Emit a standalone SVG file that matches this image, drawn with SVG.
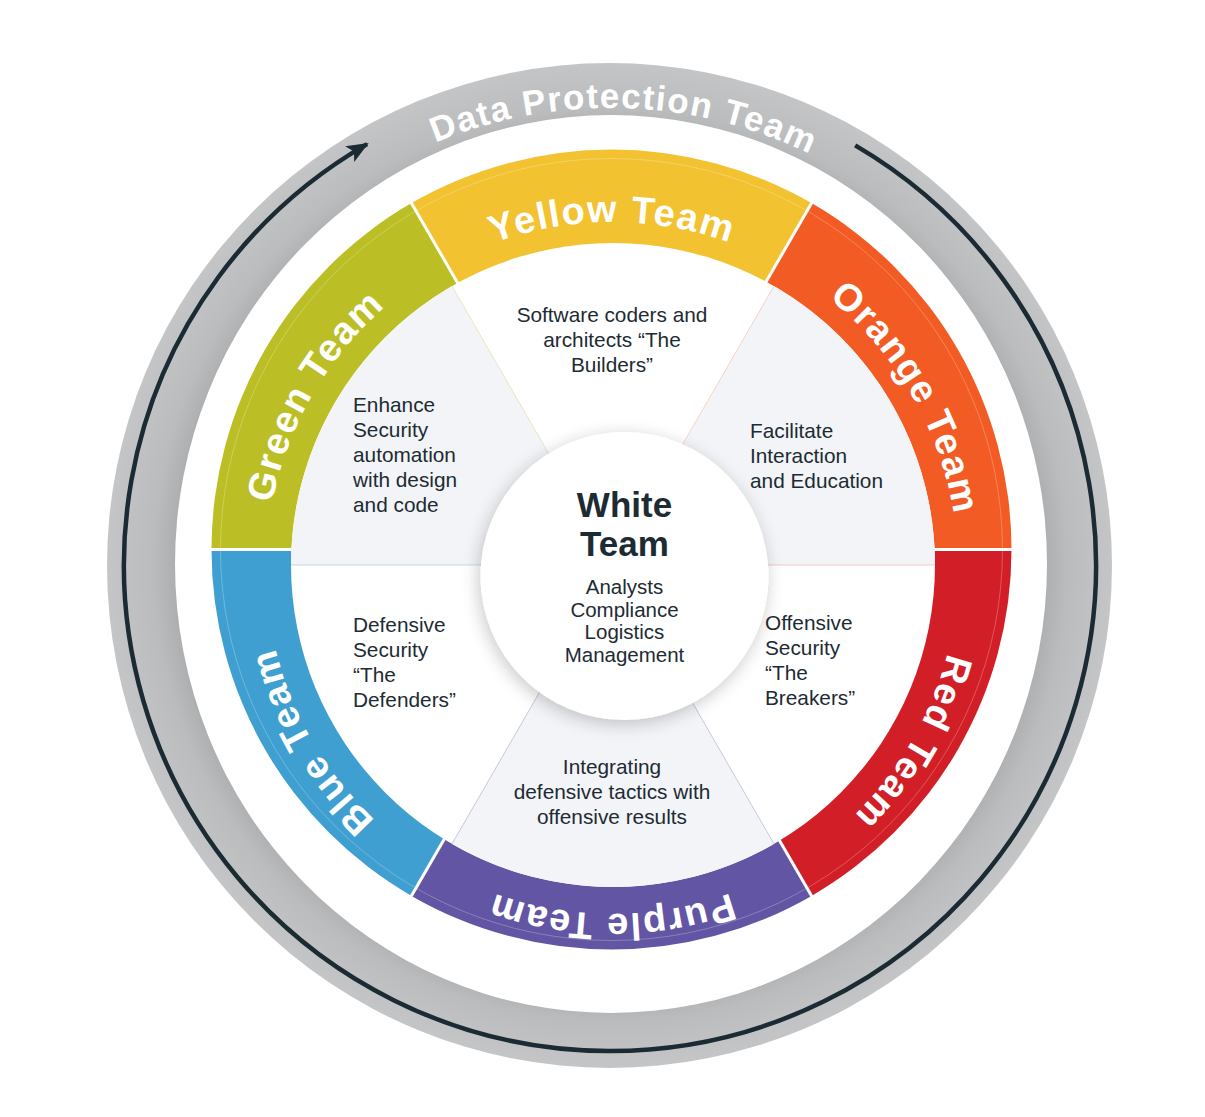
<svg xmlns="http://www.w3.org/2000/svg" width="1205" height="1117" viewBox="0 0 1205 1117">
  <defs>
    <style>
      .lbl { font-family: "Liberation Sans", Arial, sans-serif; font-weight: bold; font-size: 38px; fill: #ffffff; letter-spacing: 1.5px; }
      .dpt { font-family: "Liberation Sans", Arial, sans-serif; font-weight: bold; font-size: 35px; fill: #ffffff; letter-spacing: 1.5px; }
      .d { font-family: "Liberation Sans", Arial, sans-serif; font-size: 20.8px; fill: #1d2b33; }
      .c { text-anchor: middle; }
      .wt { font-family: "Liberation Sans", Arial, sans-serif; font-weight: bold; font-size: 35px; fill: #1d2b33; text-anchor: middle; }
      .ws { font-family: "Liberation Sans", Arial, sans-serif; font-size: 20.5px; fill: #1d2b33; text-anchor: middle; }
      .sep { stroke: #ffffff; stroke-width: 3; }
      .isep { stroke-width: 1; }
      .gray { fill: #f2f4f7; }
    </style>
    <radialGradient id="ringGrad" gradientUnits="userSpaceOnUse" cx="610" cy="565" r="503">
      <stop offset="0.85" stop-color="#a8aaac"/>
      <stop offset="0.91" stop-color="#bbbcbd"/>
      <stop offset="1" stop-color="#c4c5c6"/>
    </radialGradient>
    <filter id="shadow" x="-30%" y="-30%" width="160%" height="160%">
      <feGaussianBlur in="SourceAlpha" stdDeviation="9"/>
      <feOffset dx="-2" dy="4" result="b"/>
      <feComponentTransfer><feFuncA type="linear" slope="0.22"/></feComponentTransfer>
      <feMerge><feMergeNode/><feMergeNode in="SourceGraphic"/></feMerge>
    </filter>
    <marker id="arrow" markerUnits="userSpaceOnUse" viewBox="0 0 22 20" refX="20" refY="10" markerWidth="22" markerHeight="20" orient="auto">
      <path d="M0,1 L22,10 L0,19 L5,10 Z" fill="#1a2b33"/>
    </marker>
    <path id="pDPT" d="M214.2,336.5 A457,457 0 0 1 1005.8,336.5"/>
    <path id="pYellow" d="M312.4,395 A346,346 0 0 1 911.6,395"/>
    <path id="pOrange" d="M612,222 A346,346 0 0 1 911.6,741"/>
    <path id="pRed" d="M911.6,395 A346,346 0 0 1 612,914"/>
    <path id="pPurple" d="M911.6,741 A346,346 0 0 1 312.4,741"/>
    <path id="pBlue" d="M612,914 A346,346 0 0 1 312.4,395"/>
    <path id="pGreen" d="M312.4,741 A346,346 0 0 1 612,222"/>
  </defs>

  <rect width="1205" height="1117" fill="#ffffff"/>

  <!-- Outer Data Protection ring -->
  <g id="data-protection-team">
    <circle cx="609.5" cy="565.5" r="502.5" fill="url(#ringGrad)"/>
    <ellipse cx="611" cy="564" rx="436" ry="449" fill="#ffffff"/>
    <text class="dpt"><textPath href="#pDPT" startOffset="51.5%" text-anchor="middle">Data Protection Team</textPath></text>
  </g>

  <!-- Connectors -->
  <g id="connectors">
    <path d="M855.2,145.4 A486,486 0 1 1 367,144.1" fill="none" stroke="#1a2b33" stroke-width="4.5" marker-end="url(#arrow)"/>
  </g>

  <!-- Coloured ring -->
  <g id="ring">
    <path id="seg-yellow" d="M611.5,549.5 L411.5,203.1 A400,400 0 0 1 811.5,203.1 Z" fill="#f2c231"/>
    <path id="seg-orange" d="M611.5,549.5 L811.5,203.1 A400,400 0 0 1 1011.5,549.5 Z" fill="#f25b24"/>
    <path id="seg-red" d="M611.5,549.5 L1011.5,549.5 A400,400 0 0 1 811.5,895.9 Z" fill="#d21e26"/>
    <path id="seg-purple" d="M611.5,549.5 L811.5,895.9 A400,400 0 0 1 411.5,895.9 Z" fill="#6155a4"/>
    <path id="seg-blue" d="M611.5,549.5 L411.5,895.9 A400,400 0 0 1 211.5,549.5 Z" fill="#3f9fd1"/>
    <path id="seg-green" d="M611.5,549.5 L211.5,549.5 A400,400 0 0 1 411.5,203.1 Z" fill="#bbbf25"/>
    <circle cx="611.5" cy="549.5" r="391" fill="none" stroke="#ffffff" stroke-opacity="0.25" stroke-width="1"/>
    <line class="sep" x1="611.5" y1="549.5" x2="1013.5" y2="549.5"/>
    <line class="sep" x1="611.5" y1="549.5" x2="812.5" y2="897.6"/>
    <line class="sep" x1="611.5" y1="549.5" x2="410.5" y2="897.6"/>
    <line class="sep" x1="611.5" y1="549.5" x2="209.5" y2="549.5"/>
    <line class="sep" x1="611.5" y1="549.5" x2="410.5" y2="201.4"/>
    <line class="sep" x1="611.5" y1="549.5" x2="812.5" y2="201.4"/>
  </g>

  <!-- Inner disk -->
  <g id="inner-disk">
    <circle cx="613" cy="565" r="322" fill="#ffffff"/>
    <path class="gray" d="M613,565 L291,565 A322,322 0 0 1 452,286.1 Z"/>
    <path class="gray" d="M613,565 L774,286.1 A322,322 0 0 1 935,565 Z"/>
    <path class="gray" d="M613,565 L774,843.9 A322,322 0 0 1 452,843.9 Z"/>
    <line class="isep" x1="613" y1="565" x2="935" y2="565" stroke="#f3c9cc"/>
    <line class="isep" x1="613" y1="565" x2="774" y2="843.9" stroke="#c9c6de"/>
    <line class="isep" x1="613" y1="565" x2="452" y2="843.9" stroke="#c9c6de"/>
    <line class="isep" x1="613" y1="565" x2="291" y2="565" stroke="#bfddee"/>
    <line class="isep" x1="613" y1="565" x2="452" y2="286.1" stroke="#e9e6bf"/>
    <line class="isep" x1="613" y1="565" x2="774" y2="286.1" stroke="#f6d2c4"/>
  </g>

  <g id="yellow-team">
    <text class="lbl"><textPath href="#pYellow" startOffset="50%" text-anchor="middle">Yellow Team</textPath></text>
    <text class="d c" x="612" y="322">Software coders and</text>
    <text class="d c" x="612" y="347">architects “The</text>
    <text class="d c" x="612" y="372">Builders”</text>
  </g>

  <g id="orange-team">
    <text class="lbl"><textPath href="#pOrange" startOffset="50%" text-anchor="middle">Orange Team</textPath></text>
    <text class="d" x="750" y="438">Facilitate</text>
    <text class="d" x="750" y="463">Interaction</text>
    <text class="d" x="750" y="488">and Education</text>
  </g>

  <g id="red-team">
    <text class="lbl"><textPath href="#pRed" startOffset="50%" text-anchor="middle">Red Team</textPath></text>
    <text class="d" x="765" y="630">Offensive</text>
    <text class="d" x="765" y="655">Security</text>
    <text class="d" x="765" y="680">“The</text>
    <text class="d" x="765" y="705">Breakers”</text>
  </g>

  <g id="purple-team">
    <text class="lbl"><textPath href="#pPurple" startOffset="50%" text-anchor="middle">Purple Team</textPath></text>
    <text class="d c" x="612" y="774">Integrating</text>
    <text class="d c" x="612" y="799">defensive tactics with</text>
    <text class="d c" x="612" y="824">offensive results</text>
  </g>

  <g id="blue-team">
    <text class="lbl"><textPath href="#pBlue" startOffset="50%" text-anchor="middle">Blue Team</textPath></text>
    <text class="d" x="353" y="632">Defensive</text>
    <text class="d" x="353" y="657">Security</text>
    <text class="d" x="353" y="682">“The</text>
    <text class="d" x="353" y="707">Defenders”</text>
  </g>

  <g id="green-team">
    <text class="lbl"><textPath href="#pGreen" startOffset="50%" text-anchor="middle">Green Team</textPath></text>
    <text class="d" x="353" y="412">Enhance</text>
    <text class="d" x="353" y="437">Security</text>
    <text class="d" x="353" y="462">automation</text>
    <text class="d" x="353" y="487">with design</text>
    <text class="d" x="353" y="512">and code</text>
  </g>

  <g id="white-team">
    <circle cx="624.5" cy="576" r="144" fill="#ffffff" filter="url(#shadow)"/>
    <text class="wt" x="624.5" y="517">White</text>
    <text class="wt" x="624.5" y="556">Team</text>
    <text class="ws" x="624.5" y="594">Analysts</text>
    <text class="ws" x="624.5" y="616.5">Compliance</text>
    <text class="ws" x="624.5" y="639">Logistics</text>
    <text class="ws" x="624.5" y="661.5">Management</text>
  </g>
</svg>
